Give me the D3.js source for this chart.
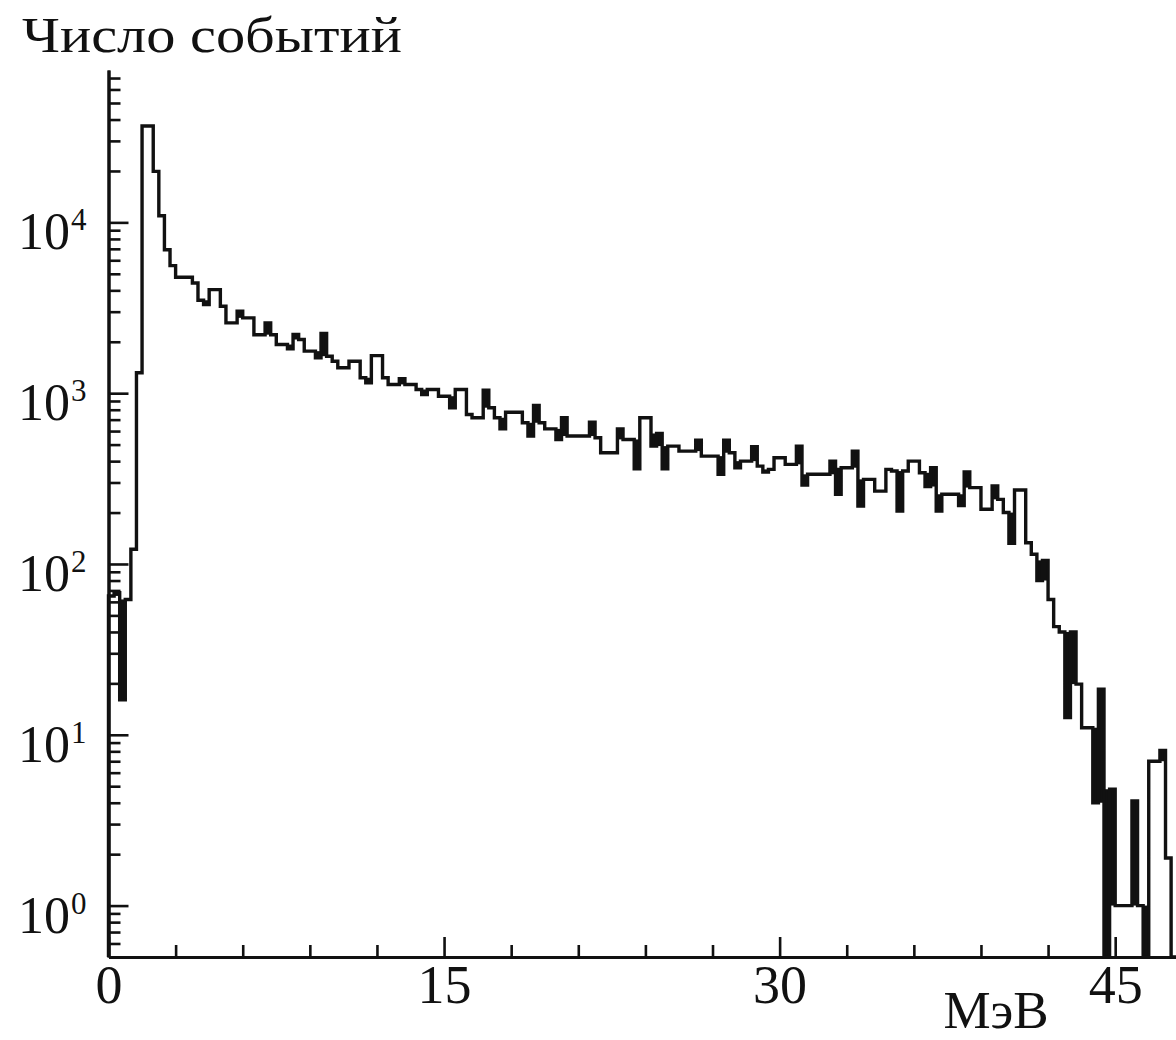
<!DOCTYPE html>
<html>
<head>
<meta charset="utf-8">
<script src="https://cdn.jsdelivr.net/npm/d3@7"></script>
<style>
  body { margin: 0; background: #fff; }
  text { font-family: "Liberation Serif", "DejaVu Serif", serif; fill: #111; }
</style>
</head>
<body>
<svg id="chart" width="1176" height="1040"></svg>
<script>
// histogram contents, 0.25 MeV bins starting at 0 MeV
var binWidth = 0.25;
var counts = [
  65, 68, 16, 62, 122, 1316, 36700, 36700, 19900, 10940,
  6920, 5580, 4770, 4770, 4770, 4420, 3500, 3300, 4040, 4040,
  3230, 2580, 2580, 3020, 2760, 2760, 2200, 2200, 2580, 2200,
  1927, 1927, 1820, 2204, 2061, 1762, 1762, 1611, 2234, 1646,
  1538, 1408, 1408, 1538, 1538, 1232, 1151, 1660, 1660, 1232,
  1125, 1125, 1214, 1125, 1125, 1051, 982, 1051, 1051, 960,
  960, 822, 1051, 1051, 750, 718, 718, 1042, 822, 718,
  618, 774, 774, 774, 671, 561, 847, 671, 618, 618,
  536, 718, 561, 561, 561, 561, 677, 548, 448, 448,
  448, 618, 536, 536, 361, 718, 718, 490, 581, 361,
  490, 490, 458, 458, 458, 531, 428, 428, 428, 335,
  531, 448, 366, 400, 400, 486, 374, 345, 358, 419,
  419, 383, 383, 490, 290, 335, 335, 335, 335, 400,
  256, 366, 366, 458, 218, 313, 313, 267, 267, 358,
  350, 204, 350, 400, 400, 342, 284, 366, 204, 256,
  256, 256, 220, 346, 280, 280, 209, 209, 286, 239,
  200, 132, 271, 271, 133, 114, 80, 105, 62, 43,
  40, 12.6, 40, 19.8, 11, 11, 4.0, 18.5, 0, 4.8,
  1, 1, 1, 4.1, 1, 0, 7, 7, 8.1, 1.9,
  0
];

var xMajorTicks = [0, 15, 30, 45];
var xMinorTicks = [3, 6, 9, 12, 18, 21, 24, 27, 33, 36, 39, 42];
var yExponents = [0, 1, 2, 3, 4];
var yTitle = "Число событий";
var xTitle = "МэВ";

var svg = d3.select("#chart");

var x = d3.scaleLinear().domain([0, 47.75]).range([108.5, 1176.7]);
var y = d3.scaleLog().domain([0.5, 78000]).range([957, 70]);

var yPos = function (v) {
  return v > 0 ? y(v) : y.range()[0];
};

// minor log ticks 2..9 in each decade, plus the ones under 1
var yMinor = [];
[-1, 0, 1, 2, 3, 4].forEach(function (e) {
  for (var k = 2; k <= 9; k++) {
    var v = k * Math.pow(10, e);
    if (v > 0.5 && v < 78000) yMinor.push(v);
  }
});

var plot = svg.append("g");
plot.append("clipPath").attr("id", "clip")
  .append("rect").attr("x", 100).attr("y", 60).attr("width", 1076).attr("height", 897);

// single bin excursions come out solid black in the original print
var blocks = [];
counts.forEach(function (v, i) {
  if (i === 0 || i === counts.length - 1) return;
  var a = counts[i - 1], b = counts[i + 1];
  if (v < a && v < b) blocks.push({ i: i, lo: v, hi: Math.min(a, b) });
  else if (v > a && v > b) blocks.push({ i: i, lo: Math.max(a, b), hi: v });
});

plot.append("g").attr("clip-path", "url(#clip)")
  .selectAll("rect").data(blocks).enter().append("rect")
  .attr("x", function (d) { return x(d.i * binWidth); })
  .attr("width", function (d) { return x((d.i + 1) * binWidth) - x(d.i * binWidth); })
  .attr("y", function (d) { return yPos(d.hi); })
  .attr("height", function (d) { return yPos(d.lo) - yPos(d.hi); })
  .attr("fill", "#111");

var pts = [[x(0), y.range()[0]]];
counts.forEach(function (v, i) {
  pts.push([x(i * binWidth), yPos(v)]);
  pts.push([x((i + 1) * binWidth), yPos(v)]);
});
pts.push([x(counts.length * binWidth), y.range()[0]]);

plot.append("path")
  .attr("clip-path", "url(#clip)")
  .attr("d", d3.line()(pts))
  .attr("fill", "none")
  .attr("stroke", "#111")
  .attr("stroke-width", 3.4)
  .attr("stroke-linejoin", "miter");

// axes, ticks pointing inward
var styleAxis = function (g) {
  g.selectAll("line").attr("stroke", "#111").attr("stroke-width", 2.6);
  g.selectAll("path").attr("stroke", "#111").attr("stroke-width", 3);
};

svg.append("g").attr("transform", "translate(" + x(0) + ",0)")
  .call(d3.axisLeft(y).tickValues(yMinor).tickSize(-12).tickSizeOuter(0).tickFormat(""))
  .call(styleAxis);
svg.append("g").attr("transform", "translate(" + x(0) + ",0)")
  .call(d3.axisLeft(y).tickValues(yExponents.map(function (e) { return Math.pow(10, e); }))
    .tickSize(-20).tickSizeOuter(0).tickFormat(""))
  .call(styleAxis);

svg.append("g").attr("transform", "translate(0," + y.range()[0] + ")")
  .call(d3.axisBottom(x).tickValues(xMinorTicks).tickSize(-12).tickSizeOuter(0).tickFormat(""))
  .call(styleAxis);
var xAxis = svg.append("g").attr("transform", "translate(0," + y.range()[0] + ")")
  .call(d3.axisBottom(x).tickValues(xMajorTicks).tickSize(-20).tickSizeOuter(0)
    .tickPadding(8).tickFormat(d3.format("d")))
  .call(styleAxis);
xAxis.selectAll("text")
  .attr("font-family", "Liberation Serif")
  .attr("font-size", 54)
  .attr("fill", "#111");

var yLabels = svg.append("g");
yExponents.forEach(function (e) {
  var ty = y(Math.pow(10, e));
  yLabels.append("text")
    .attr("x", 70).attr("y", ty + 27)
    .attr("text-anchor", "end")
    .attr("font-size", 52)
    .text("10");
  yLabels.append("text")
    .attr("x", 71).attr("y", ty + 8)
    .attr("font-size", 31)
    .text(e);
});

svg.append("text")
  .attr("x", 22).attr("y", 52)
  .attr("font-size", 51)
  .attr("textLength", 380)
  .attr("lengthAdjust", "spacingAndGlyphs")
  .text(yTitle);

svg.append("text")
  .attr("x", 996).attr("y", 1028)
  .attr("text-anchor", "middle")
  .attr("font-size", 53)
  .text(xTitle);
</script>
</body>
</html>
